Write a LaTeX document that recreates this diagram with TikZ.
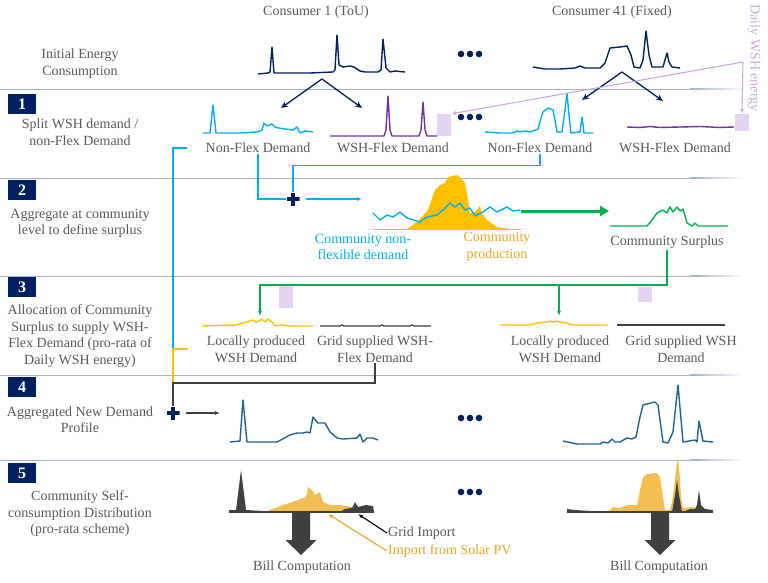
\documentclass[tikz,border=0pt]{standalone}
\usepackage{fontspec}
\setmainfont{Liberation Serif}
\usepackage{tikz}
\usetikzlibrary{arrows.meta,calc}

\definecolor{navy}{RGB}{0,32,96}
\definecolor{cblue}{RGB}{0,176,240}
\definecolor{cpurple}{RGB}{112,48,160}
\definecolor{clav}{RGB}{226,212,242}
\definecolor{clavtext}{RGB}{200,170,230}
\definecolor{cgreen}{RGB}{0,176,80}
\definecolor{corange}{RGB}{255,192,0}
\definecolor{corangetext}{RGB}{235,165,30}
\definecolor{cpv}{RGB}{242,190,80}
\definecolor{cteal}{RGB}{31,99,145}
\definecolor{ctext}{RGB}{89,89,89}
\definecolor{csep}{RGB}{166,176,204}
\definecolor{cdark}{RGB}{64,64,64}

\tikzset{
  lbl/.style={text=ctext, font=\fontsize{14}{16.5}\selectfont, align=center, inner sep=1pt},
  stepbox/.style={fill=navy, text=white, font=\fontsize{16}{16}\selectfont\bfseries, minimum width=28pt, minimum height=20pt, inner sep=0pt},
  plus/.style={minimum size=13pt, inner sep=0pt, path picture={\draw[navy, line width=3.6pt] (path picture bounding box.north) -- (path picture bounding box.south) (path picture bounding box.west) -- (path picture bounding box.east);}},
  lavbox/.style={fill=clav, inner sep=0pt, minimum width=14pt},
  curve/.style={line width=1.4pt, line join=round},
  link/.style={line width=1.1pt},
  tip/.style={-{Latex[length=5pt,width=4pt]}},
}

\begin{document}
\begin{tikzpicture}[x=1pt,y=-1pt]
\useasboundingbox (0,0) rectangle (768,582);

% Separators
\foreach \y in {89,178,276,375,460}{
  \draw[csep, line width=0.8pt] (0,\y) -- (690,\y);
  \shade[left color=csep, right color=white] (690,\y-0.4) rectangle (745,\y+0.4);
}

% Headers and step labels
\node[lbl] (c1) at (316,12) {Consumer 1 (ToU)};
\node[lbl] (c41) at (612,12) {Consumer 41 (Fixed)};
\node[lbl] (t0) at (80,63.5) {Initial Energy\\Consumption};
\node[stepbox] (s1) at (22,104) {1};
\node[lbl] (t1) at (80,132) {Split WSH demand /\\non-Flex Demand};
\node[stepbox] (s2) at (22,190) {2};
\node[lbl] (t2) at (80,223.5) {Aggregate at community\\level to define surplus};
\node[stepbox] (s3) at (22,287) {3};
\node[lbl] (t3) at (80,336) {Allocation of Community\\Surplus to supply WSH-\\Flex Demand (pro-rata of\\Daily WSH energy)};
\node[stepbox] (s4) at (22,387) {4};
\node[lbl] (t4) at (80,419.5) {Aggregated New Demand\\Profile};
\node[stepbox] (s5) at (22,473) {5};
\node[lbl] (t5) at (80,514) {Community Self-\\consumption Distribution\\(pro-rata scheme)};

% Dots between consumers
\foreach \y in {54,117,418,492}
  \foreach \i in {0,1,2}
    \fill[navy] (461+\i*9,\y) circle (3.3);

% Initial consumption
\draw[curve, navy] plot coordinates {(258,74) (268,73) (270,72) (272,47) (274,73) (290,73) (310,73) (333,72) (335,70) (337,35) (339,65) (343,67) (350,66) (354,67) (360,71) (365,72) (378,72) (381,70) (383,39) (386,68) (390,72) (395,71) (405,72)};
\draw[curve, navy] plot coordinates {(533,67) (545,69) (560,69) (575,68) (580,66) (585,68) (600,68) (605,63) (610,48) (620,47) (627,46) (631,55) (634,67) (640,68) (643,60) (646,31) (649,55) (652,67) (663,67) (665,60) (667,53) (669,62) (672,67) (680,68)};

% Split arrows
\coordinate (sp1) at (322,79);
\coordinate (sp41) at (622,72);
\coordinate (nfa1) at (281,108);
\coordinate (wfa1) at (362,108);
\coordinate (nfa41) at (582,100);
\coordinate (wfa41) at (663,101);
\draw[navy, line width=1.3pt, -{Stealth[length=7pt,width=6pt]}] (sp1) -- (nfa1);
\draw[navy, line width=1.3pt, -{Stealth[length=7pt,width=6pt]}] (sp1) -- (wfa1);
\draw[navy, line width=1.3pt, -{Stealth[length=7pt,width=6pt]}] (sp41) -- (nfa41);
\draw[navy, line width=1.3pt, -{Stealth[length=7pt,width=6pt]}] (sp41) -- (wfa41);

% Step 1: split profiles
\draw[curve, cblue] plot coordinates {(203,133) (210,133) (213,105) (216,133) (240,133) (257,132) (262,130) (264,123) (267,126) (272,124) (275,127) (279,128) (285,129) (293,130) (297,127) (300,133) (305,131) (313,132)};
\draw[curve, cpurple] plot coordinates {(330,136) (384,136) (386,130) (388,96) (390,130) (392,136) (419,136) (421,130) (423,102) (425,130) (427,136) (437,136)};
\draw[curve, cblue] plot coordinates {(485,132) (500,133) (513,133) (517,131) (520,132) (525,131) (530,132) (538,129) (541,118) (543,112) (548,108) (553,110) (555,120) (557,132) (562,132) (565,110) (567,93) (569,115) (571,133) (580,132) (582,117) (584,133) (593,133)};
\draw[curve, cpurple] plot coordinates {(627,127) (640,127.5) (650,126.5) (660,127.5) (680,127) (700,126.5) (720,127.5) (734,127)};
\node[lbl] (nf1) at (258,148) {Non-Flex Demand};
\node[lbl] (wf1) at (393,148) {WSH-Flex Demand};
\node[lbl] (nf41) at (540,148) {Non-Flex Demand};
\node[lbl] (wf41) at (675,148) {WSH-Flex Demand};
\node[lavbox, minimum height=22pt] (wb1) at (444,125) {};
\node[lavbox, minimum height=17pt] (wb41) at (742,122.5) {};

% Daily WSH energy
\node[lbl, text=clavtext, rotate=-90] (dw) at (754,58) {Daily WSH energy};
\coordinate (dj) at (743,62);
\draw[clavtext, link, tip] (dj) -- (wb1.north east);
\draw[clavtext, link, tip] (dj) -- (wb41.north);

% Step 2: aggregation
\node[plus] (p2) at (293,199) {};
\coordinate (a2) at (362,199);
\draw[cblue, link] (nf1.south) |- (p2.west);
\draw[cblue, link] (nf41.south) -- ++(0,11) -| (p2.north);
\draw[cblue, link, tip, shorten <=6pt] (p2.east) -- (a2);
\fill[corange] plot coordinates {(407,229) (417,222) (428,210) (435,190) (440,185) (445,183) (448,177) (452,176) (457,175) (460,177) (465,183) (468,200) (470,213) (475,212) (480,206) (482,213) (487,220) (497,227) (510,229)} -- cycle;
\draw[corange, line width=1pt] (373,229) -- (521,229);
\draw[curve, cblue] plot coordinates {(373,213) (380,220) (387,215) (393,217) (400,212) (407,218) (420,222) (427,217) (437,215) (443,210) (450,203) (455,207) (460,203) (465,210) (470,208) (475,216) (483,212) (490,207) (497,212) (507,207) (513,211) (520,210)};
\node[lbl, text=cblue] (cnf) at (363,247) {Community non-\\flexible demand};
\node[lbl, text=corangetext] (cpr) at (497,247) {Community\\production};
\coordinate (ge1) at (521,211);
\coordinate (ge2) at (609,211);
\draw[cgreen, line width=3pt, -{Triangle[length=9pt,width=10pt]}] (ge1) -- (ge2);
\draw[curve, cgreen] plot coordinates {(610,226) (647,226) (652,220) (657,213) (663,210) (667,213) (670,207) (673,212) (677,207) (680,211) (683,209) (687,223) (692,226) (695,223) (698,226) (728,226)};
\node[lbl] (cs) at (667,242) {Community Surplus};

% Step 3: allocation
\coordinate (gj) at (0,285);
\coordinate (ga1) at (260,316);
\coordinate (ga41) at (559,316);
\draw[cgreen, link, tip] (cs.south) |- (ga1 |- gj) -- (ga1);
\draw[cgreen, link, tip] (ga41 |- gj) -- (ga41);
\node[lavbox, minimum height=22pt] (lb1) at (286,297) {};
\node[lavbox, minimum height=15pt] (lb41) at (645,294.5) {};
\draw[curve, corange] plot coordinates {(202,326) (237,325) (243,323) (247,322) (253,320) (256,322) (259,321) (262,319) (265,322) (268,319) (272,322) (275,326) (282,325) (290,326) (313,326)};
\draw[cdark, line width=1.2pt] plot coordinates {(320,326) (340,326) (342,325) (344,326) (380,326) (382,325) (384,326) (410,326) (412,325) (414,326) (431,326)};
\draw[curve, corange] plot coordinates {(500,325) (530,325) (537,323) (547,322) (550,321) (553,322) (557,321) (560,322) (567,323) (572,325) (608,325)};
\draw[cdark, line width=1.2pt] (617,325) -- (725,325);
\node[lbl] (lp1) at (256,349) {Locally produced\\WSH Demand};
\node[lbl] (gs1) at (375,349) {Grid supplied WSH-\\Flex Demand};
\node[lbl] (lp41) at (560,349) {Locally produced\\WSH Demand};
\node[lbl] (gs41) at (681,349) {Grid supplied WSH\\Demand};

% Step 4: new demand
\coordinate (j3) at (173,350);
\coordinate (j4) at (173,383);
\node[plus] (p4) at (173,413) {};
\coordinate (a4) at (220,413);
\draw[cblue, link] ([xshift=-18pt]nf1.west) -| (j3);
\draw[corange, link] ([xshift=-18pt]lp1.west) -| (j4);
\draw[cdark, link] (gs1.south) |- (j4) -- (p4.north);
\draw[cdark, link, tip, shorten <=6pt] (p4.east) -- (a4);
\draw[curve, cteal] plot coordinates {(230,442) (240,441) (243,400) (247,442) (277,442) (290,435) (297,433) (303,433) (307,432) (310,433) (313,417) (318,423) (325,423) (330,432) (337,438) (343,439) (357,438) (360,434) (363,442) (367,438) (373,438) (378,440)};
\draw[curve, cteal] plot coordinates {(563,441) (577,444) (600,444) (603,442) (608,443) (612,439) (615,442) (620,442) (627,438) (632,439) (636,437) (640,417) (643,405) (655,402) (658,405) (663,442) (668,443) (673,432) (678,385) (683,442) (695,440) (697,442) (699,421) (703,441) (713,442)};

% Step 5: self-consumption
\fill[cpv] plot coordinates {(262,512) (267,511) (275,508) (283,505) (293,502) (303,498) (306,497) (308,487) (312,490) (315,495) (320,492) (323,502) (330,505) (340,505) (352,507) (356,510) (358,512)} -- cycle;
\fill[cdark] plot coordinates {(229,512) (229,510) (236,510) (241,470) (246,510) (262,511) (262,512)} -- cycle;
\fill[cdark] plot coordinates {(340,512) (345,509) (352,508) (355,502) (358,507) (362,506) (366,505) (373,506) (374,512)} -- cycle;
\fill[cpv] plot coordinates {(604,512) (610,510) (613,507) (620,508) (627,505) (637,505) (640,490) (643,477) (647,474) (657,473) (660,477) (663,497) (665,510) (670,510) (673,497) (676,470) (678,457) (680,480) (681,497) (683,508) (693,507) (697,508) (700,512)} -- cycle;
\fill[cdark] plot coordinates {(567,512) (567,509) (575,510) (590,511) (604,512)} -- cycle;
\fill[cdark] plot coordinates {(672,512) (675,495) (677,480) (679,495) (682,512)} -- cycle;
\fill[cdark] plot coordinates {(683,512) (690,509) (695,509) (697,505) (699,490) (701,505) (705,509) (713,510) (713,512)} -- cycle;
\draw[cdark, line width=1.4pt] (229,512) -- (374,512);
\draw[cdark, line width=1.4pt] (567,512) -- (713,512);
\foreach \cx in {301,660}
  \fill[cdark] (\cx-9,513) -- (\cx+9,513) -- (\cx+9,540) -- (\cx+15.5,540) -- (\cx,555) -- (\cx-15.5,540) -- (\cx-9,540) -- cycle;
\node[lbl] (bc1) at (302,567) {Bill Computation};
\node[lbl] (bc41) at (659,567) {Bill Computation};
\node[lbl, anchor=west] (gi) at (387,533) {Grid Import};
\node[lbl, anchor=west, text=corangetext] (pv) at (387,551) {Import from Solar PV};
\coordinate (gp) at (358,514);
\coordinate (pp) at (328,514);
\draw[black, link, tip] (gi.west) -- (gp);
\draw[corangetext, link, tip] (pv.west) -- (pp);

\end{tikzpicture}
\end{document}
